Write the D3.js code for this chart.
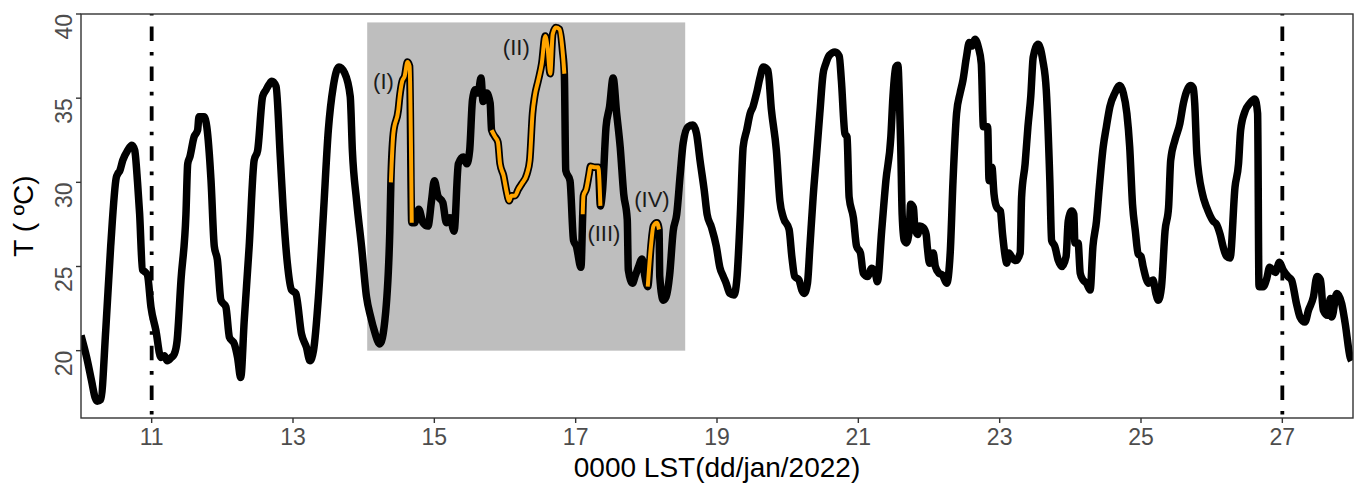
<!DOCTYPE html>
<html>
<head>
<meta charset="utf-8">
<script src="https://cdn.jsdelivr.net/npm/d3@7"></script>
<style>
  body { margin: 0; background: #fff; }
  svg { display: block; font-family: "Liberation Sans", Arial, sans-serif; }
</style>
</head>
<body>
<div id="chart"></div>
<script>
// time in days (jan 2022) and temperature (ºC)
var days = [10.00, 10.08, 10.15, 10.20, 10.23, 10.28, 10.35, 10.42, 10.50, 10.52, 10.55, 10.59, 10.66, 10.72, 10.76, 10.80, 10.83, 10.87, 10.90, 10.94, 10.99,
  11.06, 11.13, 11.18, 11.22, 11.28, 11.32, 11.36, 11.415, 11.485, 11.51, 11.54, 11.60, 11.65, 11.67, 11.74, 11.78, 11.84, 11.886, 11.93, 11.98,
  12.05, 12.10, 12.17, 12.215, 12.26, 12.31, 12.38, 12.45, 12.50, 12.57, 12.62, 12.66, 12.70, 12.76, 12.82, 12.86, 12.92, 12.98,
  13.04, 13.12, 13.19, 13.24, 13.29, 13.36, 13.43, 13.50, 13.57, 13.65, 13.73, 13.81, 13.84, 13.90, 13.97,
  14.04, 14.10, 14.15, 14.23, 14.30, 14.37, 14.385, 14.42, 14.49, 14.51, 14.545, 14.58, 14.62, 14.65, 14.68, 14.72, 14.78, 14.84, 14.91, 14.96,
  15.00, 15.05, 15.12, 15.17, 15.22, 15.28, 15.34, 15.41, 15.46, 15.50, 15.54, 15.58, 15.62, 15.66, 15.69, 15.74, 15.79, 15.81, 15.86, 15.90, 15.93, 15.98,
  16.02, 16.06, 16.09, 16.14, 16.19, 16.235, 16.31, 16.35, 16.39, 16.42, 16.47, 16.52, 16.57, 16.60, 16.64, 16.675, 16.72, 16.77, 16.815, 16.84, 16.86, 16.92, 16.97,
  17.01, 17.075, 17.10, 17.11, 17.15, 17.19, 17.21, 17.27, 17.32, 17.35, 17.38, 17.43, 17.48, 17.53, 17.58, 17.63, 17.68, 17.73, 17.745, 17.805, 17.84, 17.886, 17.94, 17.98,
  18.02, 18.065, 18.10, 18.15, 18.18, 18.19, 18.24, 18.28, 18.33, 18.38, 18.43, 18.48, 18.52, 18.59, 18.66, 18.71, 18.76, 18.82, 18.86, 18.92, 18.99,
  19.04, 19.09, 19.13, 19.18, 19.24, 19.28, 19.33, 19.37, 19.42, 19.47, 19.51, 19.56, 19.61, 19.655, 19.72, 19.77, 19.84, 19.89, 19.94,
  20.02, 20.06, 20.10, 20.16, 20.20, 20.235, 20.28, 20.315, 20.36, 20.41, 20.455, 20.50, 20.54, 20.59, 20.67, 20.73, 20.76, 20.81, 20.84, 20.87, 20.93, 20.975,
  21.03, 21.07, 21.13, 21.19, 21.24, 21.27, 21.33, 21.39, 21.46, 21.49, 21.53, 21.56, 21.58, 21.60, 21.62, 21.65, 21.68, 21.72, 21.74, 21.78, 21.80, 21.84, 21.87, 21.92, 21.96, 21.975,
  22.01, 22.06, 22.09, 22.14, 22.19, 22.25, 22.30, 22.34, 22.39, 22.44, 22.48, 22.53, 22.57, 22.61, 22.65, 22.70, 22.74, 22.77, 22.83, 22.85, 22.89, 22.92, 22.96,
  23.01, 23.04, 23.08, 23.10, 23.13, 23.18, 23.23, 23.29, 23.31, 23.36, 23.40, 23.44, 23.475, 23.545, 23.61, 23.66, 23.71, 23.735, 23.78, 23.83, 23.88, 23.94, 23.97,
  24.02, 24.05, 24.065, 24.11, 24.14, 24.18, 24.23, 24.28, 24.32, 24.37, 24.41, 24.465, 24.51, 24.56, 24.63, 24.70, 24.75, 24.80, 24.84, 24.88, 24.92, 24.96,
  25.00, 25.03, 25.11, 25.17, 25.21, 25.245, 25.29, 25.34, 25.39, 25.42, 25.48, 25.55, 25.60, 25.65, 25.70, 25.74, 25.76, 25.79, 25.87, 25.93,
  26.02, 26.07, 26.12, 26.16, 26.21, 26.26, 26.33, 26.38, 26.41, 26.47, 26.54, 26.61, 26.65, 26.67, 26.73, 26.78, 26.82, 26.90, 26.96,
  27.01, 27.08, 27.13, 27.20, 27.25, 27.32, 27.37, 27.44, 27.49, 27.54, 27.58, 27.64, 27.68, 27.70, 27.77, 27.84, 27.89, 27.96, 27.98];

var temps = [20.9, 19.6, 18.2, 17.2, 17.0, 17.1, 21.2, 26.2, 30.3, 30.5, 30.7, 31.3, 31.9, 32.2, 31.9, 30.0, 28.1, 24.8, 24.7, 24.5, 22.6,
  21.2, 19.6, 19.7, 19.4, 19.6, 19.8, 20.6, 24.2, 28.1, 31.1, 31.5, 32.7, 33.1, 33.9, 33.9, 33.3, 30.1, 26.2, 25.4, 23.0,
  22.6, 20.8, 20.4, 19.6, 18.4, 21.8, 26.2, 31.3, 31.9, 35.1, 35.5, 35.8, 36.0, 35.7, 31.5, 28.5, 25.2, 23.6,
  23.4, 21.0, 20.2, 19.4, 20.0, 23.2, 28.1, 33.1, 35.7, 36.85, 36.5, 35.1, 31.9, 28.9, 26.2,
  23.2, 22.0, 21.2, 20.4, 21.8, 27.1, 30.0, 32.9, 34.3, 35.1, 36.0, 36.3, 37.15, 36.9, 27.6, 27.6, 28.4, 27.6, 27.4, 28.9,
  30.1, 29.2, 28.8, 27.6, 27.9, 27.1, 31.1, 31.5, 31.1, 31.9, 34.9, 35.5, 35.3, 36.2, 34.8, 35.3, 34.7, 33.1, 32.7, 32.4, 31.1, 30.4,
  29.5, 28.9, 29.2, 29.2, 29.6, 29.9, 30.5, 31.3, 34.1, 35.1, 36.05, 37.05, 38.7, 38.1, 36.45, 38.8, 39.2, 39.1, 37.8, 36.45, 30.7, 30.1, 26.55,
  26.2, 24.95, 28.1, 29.2, 29.6, 30.5, 30.95, 30.9, 30.9, 28.6, 29.5, 33.3, 34.5, 36.2, 34.1, 32.1, 29.3, 27.8, 24.8, 24.0, 24.4, 24.95, 25.45, 24.4,
  23.8, 26.2, 27.4, 27.6, 27.2, 24.4, 23.0, 23.2, 24.5, 27.1, 28.1, 30.5, 32.3, 33.3, 33.4, 32.9, 31.3, 29.5, 28.1, 27.35, 26.2,
  24.95, 24.4, 24.0, 23.4, 23.3, 24.2, 28.1, 32.1, 33.1, 34.1, 34.5, 35.3, 36.25, 36.85, 36.65, 34.3, 31.9, 28.9, 27.9,
  27.2, 25.55, 24.4, 24.2, 23.6, 23.4, 24.0, 26.2, 29.1, 31.7, 34.1, 36.4, 37.05, 37.55, 37.75, 37.5, 36.05, 32.9, 32.7, 29.1, 27.9, 26.2,
  25.8, 24.6, 24.4, 24.9, 24.6, 24.1, 27.1, 30.1, 32.7, 35.1, 36.85, 36.95, 35.1, 32.1, 28.1, 26.55, 26.4, 27.1, 28.7, 28.5, 27.3, 26.9, 27.4, 27.3, 26.9, 26.2,
  25.2, 25.8, 25.0, 24.6, 24.5, 24.0, 25.8, 30.1, 34.1, 35.3, 36.05, 37.45, 38.3, 38.1, 38.5, 38.0, 37.05, 33.3, 33.3, 30.1, 30.9, 29.3, 28.5,
  28.3, 26.95, 25.55, 25.2, 25.8, 25.5, 25.35, 25.8, 29.1, 31.1, 33.3, 35.1, 37.45, 38.2, 37.25, 35.45, 30.1, 26.55, 26.2, 25.35, 25.0, 25.6, 27.7,
  28.3, 28.1, 26.4, 26.4, 24.6, 24.2, 24.0, 23.6, 26.2, 27.7, 29.7, 32.1, 33.3, 34.5, 35.3, 35.75, 35.3, 34.1, 32.1, 28.7, 27.1, 25.75,
  25.6, 25.0, 24.0, 24.2, 23.4, 23.0, 23.8, 27.1, 28.5, 31.3, 32.5, 33.5, 34.7, 35.45, 35.75, 35.6, 34.7, 31.7, 29.3, 28.5,
  27.7, 27.5, 26.9, 26.2, 25.6, 25.5, 29.7, 31.1, 33.1, 34.2, 34.7, 34.95, 34.1, 23.8, 23.8, 24.3, 24.95, 24.65, 25.25,
  24.8, 24.4, 24.2, 22.8, 22.0, 21.7, 22.4, 23.2, 24.4, 24.2, 22.4, 22.1, 23.1, 22.0, 23.4, 22.8, 21.6, 19.6, 19.4];

// highlighted episodes (start day, end day) and their labels
var episodeRanges = [[14.385, 14.68], [15.81, 16.84], [17.10, 17.35], [18.02, 18.18]];
var episodeLabels = ["(I)", "(II)", "(III)", "(IV)"];
var labelDays = [14.28, 16.16, 17.40, 18.08];
var labelTemps = [36.0, 38.0, 27.0, 29.0];

var shadeDays = [14.05, 18.55];
var shadeTemps = [20, 39.5];
var markerDays = [11, 27];

var xTicks = [11, 13, 15, 17, 19, 21, 23, 25, 27];
var yTicks = [20, 25, 30, 35, 40];

var width = 1355, height = 484;
var margin = {top: 14, right: 2, bottom: 66, left: 81};

var svg = d3.select("#chart").append("svg")
  .attr("width", width)
  .attr("height", height);

var x = d3.scaleLinear().domain([10, 28]).range([margin.left, width - margin.right]);
var y = d3.scaleLinear().domain([16, 40]).range([height - margin.bottom, margin.top]);

var data = days.map(function (d, i) { return {t: d, v: temps[i]}; });

svg.append("defs").append("clipPath").attr("id", "clip")
  .append("rect")
  .attr("x", x(10)).attr("y", y(40))
  .attr("width", x(28) - x(10)).attr("height", y(16) - y(40));

var plot = svg.append("g").attr("clip-path", "url(#clip)");

// grey box
plot.append("rect")
  .attr("x", x(shadeDays[0]))
  .attr("y", y(shadeTemps[1]))
  .attr("width", x(shadeDays[1]) - x(shadeDays[0]))
  .attr("height", y(shadeTemps[0]) - y(shadeTemps[1]))
  .attr("fill", "#bebebe");

var line = d3.line()
  .curve(d3.curveMonotoneX)
  .x(function (d) { return x(d.t); })
  .y(function (d) { return y(d.v); });

plot.append("path")
  .datum(data)
  .attr("d", line)
  .attr("fill", "none")
  .attr("stroke", "#000")
  .attr("stroke-width", 7.5)
  .attr("stroke-linejoin", "round");

// orange highlights on top of the black line
plot.selectAll(".episode")
  .data(episodeRanges)
  .enter()
  .append("path")
  .attr("class", "episode")
  .attr("d", function (r) {
    return line(data.filter(function (d) { return d.t >= r[0] - 1e-6 && d.t <= r[1] + 1e-6; }));
  })
  .attr("fill", "none")
  .attr("stroke", "#ffa500")
  .attr("stroke-width", 4)
  .attr("stroke-linejoin", "round");

// dot-dash markers
plot.selectAll(".marker")
  .data(markerDays)
  .enter()
  .append("line")
  .attr("x1", function (d) { return x(d); })
  .attr("x2", function (d) { return x(d); })
  .attr("y1", y(40))
  .attr("y2", y(16))
  .attr("stroke", "#000")
  .attr("stroke-width", 3.8)
  .attr("stroke-dasharray", "3.6,10.9,14.5,10.9")
  .attr("stroke-dashoffset", 2);

svg.selectAll(".label")
  .data(episodeLabels)
  .enter()
  .append("text")
  .attr("x", function (d, i) { return x(labelDays[i]); })
  .attr("y", function (d, i) { return y(labelTemps[i]); })
  .attr("dy", "0.35em")
  .attr("text-anchor", "middle")
  .style("font-size", "22px")
  .style("fill", "#1a1a1a")
  .text(function (d) { return d; });

// panel border
svg.append("rect")
  .attr("x", x(10)).attr("y", y(40))
  .attr("width", x(28) - x(10)).attr("height", y(16) - y(40))
  .attr("fill", "none")
  .attr("stroke", "#333")
  .attr("stroke-width", 1.4);

// x axis
var gx = svg.append("g");
gx.selectAll("line").data(xTicks).enter().append("line")
  .attr("x1", function (d) { return x(d); })
  .attr("x2", function (d) { return x(d); })
  .attr("y1", y(16)).attr("y2", y(16) + 5)
  .attr("stroke", "#333").attr("stroke-width", 1.4);
gx.selectAll("text").data(xTicks).enter().append("text")
  .attr("x", function (d) { return x(d); })
  .attr("y", y(16) + 27)
  .attr("text-anchor", "middle")
  .style("font-size", "23px")
  .style("fill", "#4d4d4d")
  .text(function (d) { return d; });

// y axis
var gy = svg.append("g");
gy.selectAll("line").data(yTicks).enter().append("line")
  .attr("x1", x(10) - 5).attr("x2", x(10))
  .attr("y1", function (d) { return y(d); })
  .attr("y2", function (d) { return y(d); })
  .attr("stroke", "#333").attr("stroke-width", 1.4);
gy.selectAll("text").data(yTicks).enter().append("text")
  .attr("transform", function (d) { return "translate(" + (x(10) - 9) + "," + y(d) + ") rotate(-90)"; })
  .attr("text-anchor", "end")
  .style("font-size", "23px")
  .style("fill", "#4d4d4d")
  .text(function (d) { return d; });

// axis titles
svg.append("text")
  .attr("x", (x(10) + x(28)) / 2)
  .attr("y", 477)
  .attr("text-anchor", "middle")
  .style("font-size", "28px")
  .style("fill", "#000")
  .text("0000 LST(dd/jan/2022)");

svg.append("text")
  .attr("transform", "translate(33," + (y(16) + y(40)) / 2 + ") rotate(-90)")
  .attr("text-anchor", "middle")
  .style("font-size", "28px")
  .style("fill", "#000")
  .text("T ( ºC)");
</script>
</body>
</html>
